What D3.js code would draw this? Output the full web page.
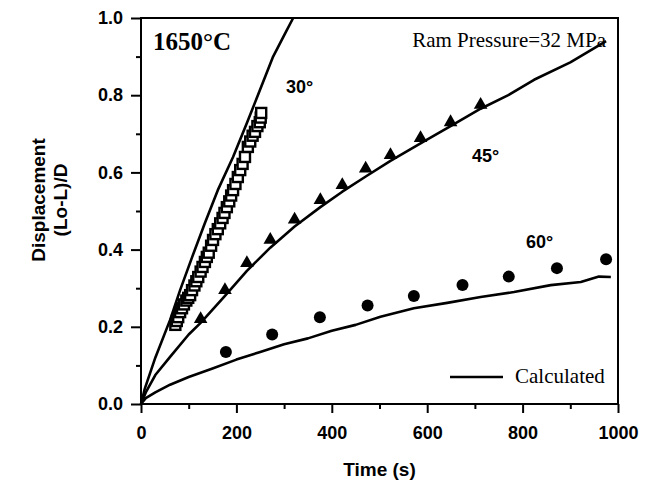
<!DOCTYPE html>
<html>
<head>
<meta charset="utf-8">
<script src="https://cdn.jsdelivr.net/npm/d3@7"></script>
<style>
  body { margin: 0; background: #fff; }
  svg { display: block; }
  .tick text { font-family: "Liberation Sans", Arial, sans-serif; font-weight: bold; font-size: 18px; fill: #000; }
</style>
</head>
<body>
<svg id="chart"></svg>
<script>
const xTicks = [0, 200, 400, 600, 800, 1000];
const yTicks = [0, 0.2, 0.4, 0.6, 0.8, 1.0];

// calculated curves: [time (s), displacement]
const calc30 = [[0,0],[8,0.04],[30,0.12],[61,0.218],[82,0.295],[107,0.38],[134,0.469],[161,0.554],[193,0.64],[222,0.728],[245,0.8],[277,0.9],[300,0.955],[319,1.0]];
const calc45 = [[0,0],[10,0.03],[30,0.075],[61,0.122],[100,0.18],[125,0.21],[176,0.28],[222,0.345],[271,0.405],[322,0.46],[376,0.51],[422,0.55],[472,0.59],[523,0.63],[586,0.675],[649,0.72],[712,0.765],[770,0.8],[824,0.84],[900,0.885],[975,0.94]];
const calc60 = [[0,0],[10,0.015],[30,0.03],[61,0.05],[100,0.07],[150,0.092],[200,0.115],[250,0.135],[300,0.155],[350,0.17],[400,0.19],[450,0.205],[502,0.226],[572,0.248],[642,0.262],[712,0.277],[782,0.29],[859,0.308],[922,0.316],[960,0.33],[985,0.329]];

// experimental points
const squares30 = [[72,0.205],[75,0.215],[78,0.225],[82,0.238],[86,0.248],[90,0.258],[95,0.268],[99,0.275],[103,0.282],[107,0.295],[112,0.307],[116,0.318],[120,0.329],[125,0.343],[129,0.355],[134,0.368],[138,0.381],[142,0.392],[147,0.41],[151,0.425],[156,0.44],[161,0.453],[166,0.468],[171,0.482],[175,0.495],[180,0.51],[185,0.525],[189,0.54],[193,0.554],[198,0.57],[203,0.588],[208,0.606],[213,0.622],[218,0.64],[224,0.666],[229,0.68],[234,0.695],[239,0.705],[244,0.72],[249,0.73],[251,0.742],[252,0.754]];
const triangles45 = [[125,0.22],[176,0.295],[222,0.365],[271,0.425],[322,0.478],[376,0.528],[422,0.567],[471,0.61],[523,0.645],[586,0.689],[649,0.73],[712,0.775]];
const circles60 = [[178,0.135],[275,0.18],[375,0.225],[475,0.255],[572,0.28],[674,0.308],[771,0.33],[872,0.352],[975,0.375]];

const width = 646, height = 483;
const margin = { top: 18, right: 28, bottom: 79, left: 141 };
const bodyWidth = width - margin.left - margin.right;
const bodyHeight = height - margin.top - margin.bottom;

const svg = d3.select("#chart").attr("width", width).attr("height", height);

const x = d3.scaleLinear().domain([0, 1000]).range([0, bodyWidth]);
const y = d3.scaleLinear().domain([0, 1]).range([bodyHeight, 0]);

const body = svg.append("g").attr("transform", `translate(${margin.left},${margin.top})`);

// minor ticks
body.append("g")
  .attr("transform", `translate(0,${bodyHeight})`)
  .call(d3.axisBottom(x).tickValues(d3.range(100, 1000, 200)).tickSize(5).tickFormat(""))
  .call(g => g.select(".domain").remove())
  .call(g => g.selectAll("line").attr("stroke-width", 2));
body.append("g")
  .call(d3.axisLeft(y).tickValues(d3.range(0.1, 1, 0.2)).tickSize(5).tickFormat(""))
  .call(g => g.select(".domain").remove())
  .call(g => g.selectAll("line").attr("stroke-width", 2));

// major axes
const gX = body.append("g")
  .attr("transform", `translate(0,${bodyHeight})`)
  .call(d3.axisBottom(x).tickValues(xTicks).tickSize(9).tickPadding(13).tickFormat(d3.format("d")));
const gY = body.append("g")
  .call(d3.axisLeft(y).tickValues(yTicks).tickSize(10).tickPadding(8).tickFormat(d3.format(".1f")));
[gX, gY].forEach(g => {
  g.select(".domain").remove();
  g.selectAll("line").attr("stroke-width", 2);
});

// frame
body.append("rect")
  .attr("width", bodyWidth).attr("height", bodyHeight)
  .attr("fill", "none").attr("stroke", "#000").attr("stroke-width", 2);

// calculated curves
const line = d3.line().x(d => x(d[0])).y(d => y(d[1]));
[calc30, calc45, calc60].forEach(c => {
  body.append("path").datum(c)
    .attr("d", line)
    .attr("fill", "none").attr("stroke", "#000").attr("stroke-width", 2.6)
    .attr("stroke-linejoin", "round");
});

// 30 deg squares
body.selectAll(".sq").data(squares30).enter().append("rect")
  .attr("x", d => x(d[0]) - 5).attr("y", d => y(d[1]) - 5)
  .attr("width", 10).attr("height", 10)
  .attr("fill", "#fff").attr("stroke", "#000").attr("stroke-width", 2.4);

// 45 deg triangles
const tri = d3.symbol().type(d3.symbolTriangle).size(80);
body.selectAll(".tri").data(triangles45).enter().append("path")
  .attr("d", tri)
  .attr("transform", d => `translate(${x(d[0])},${y(d[1])})`)
  .attr("fill", "#000");

// 60 deg circles
body.selectAll(".dot").data(circles60).enter().append("circle")
  .attr("cx", d => x(d[0])).attr("cy", d => y(d[1]))
  .attr("r", 6).attr("fill", "#000");

// annotations
const sans = "'Liberation Sans', Arial, sans-serif";
const serif = "'Liberation Serif', 'Times New Roman', serif";
svg.append("text").attr("x", 153).attr("y", 50)
  .style("font-family", serif).style("font-weight", "bold").style("font-size", "25px")
  .text("1650°C");
svg.append("text").attr("x", 606).attr("y", 47).attr("text-anchor", "end")
  .style("font-family", serif).style("font-size", "21px")
  .text("Ram Pressure=32 MPa");
[["30°", 286, 93], ["45°", 472, 162], ["60°", 526, 248]].forEach(([t, tx, ty]) => {
  svg.append("text").attr("x", tx).attr("y", ty)
    .style("font-family", sans).style("font-weight", "bold").style("font-size", "18px")
    .text(t);
});

// legend
svg.append("line").attr("x1", 450).attr("x2", 503).attr("y1", 377).attr("y2", 377)
  .attr("stroke", "#000").attr("stroke-width", 2.6);
svg.append("text").attr("x", 515).attr("y", 383)
  .style("font-family", serif).style("font-size", "21px")
  .text("Calculated");

// axis titles
svg.append("text").attr("x", margin.left + bodyWidth / 2).attr("y", 476).attr("text-anchor", "middle")
  .style("font-family", sans).style("font-weight", "bold").style("font-size", "19px")
  .text("Time (s)");
const yt = svg.append("text")
  .attr("transform", "translate(45,200) rotate(-90)")
  .attr("text-anchor", "middle")
  .style("font-family", sans).style("font-weight", "bold").style("font-size", "19px");
yt.append("tspan").attr("x", 0).attr("dy", 0).text("Displacement");
yt.append("tspan").attr("x", 0).attr("dy", 22).text("(Lo-L)/D");
</script>
</body>
</html>
